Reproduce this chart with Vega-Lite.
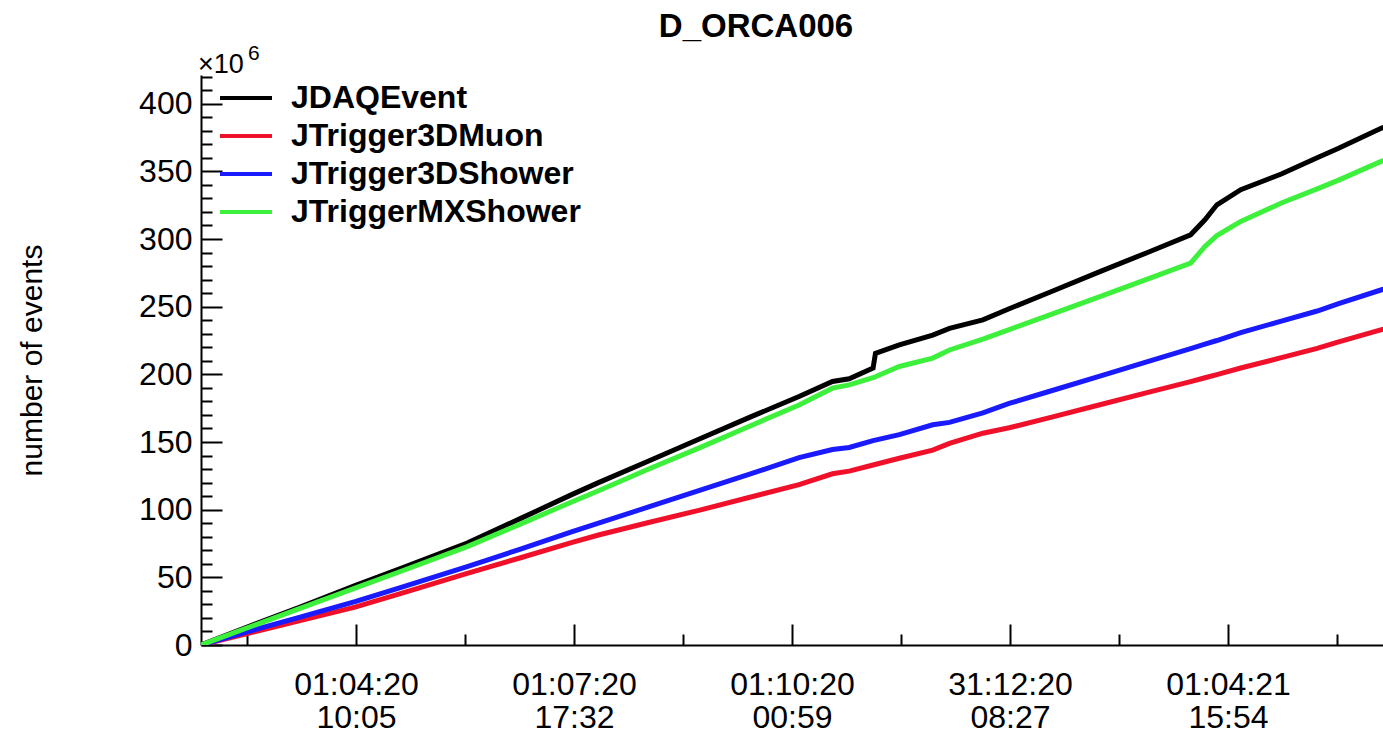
{
  "$schema": "https://vega.github.io/schema/vega-lite/v6.json",
  "autosize": {"type": "none"},
  "padding": {"left": 201, "top": 75, "right": 0, "bottom": 89},
  "width": 1182,
  "height": 570,
  "background": "white",
  "config": {"view": {"stroke": null}, "font": "Liberation Sans"},
  "title": {
    "text": "D_ORCA006",
    "font": "Liberation Sans",
    "fontSize": 33,
    "fontWeight": "bold",
    "color": "black",
    "anchor": "middle",
    "dx": -36,
    "baseline": "alphabetic",
    "offset": -27
  },
  "datasets": {
    "counts": [
      {"time": "2020-01-27T12:00:00Z", "trigger": "JDAQEvent", "events": 0},
      {"time": "2020-02-21", "trigger": "JDAQEvent", "events": 16.7},
      {"time": "2020-03-09", "trigger": "JDAQEvent", "events": 28},
      {"time": "2020-04-01", "trigger": "JDAQEvent", "events": 44},
      {"time": "2020-04-20", "trigger": "JDAQEvent", "events": 56.5},
      {"time": "2020-05-18", "trigger": "JDAQEvent", "events": 75.4},
      {"time": "2020-06-09", "trigger": "JDAQEvent", "events": 93.2},
      {"time": "2020-07-01", "trigger": "JDAQEvent", "events": 111.3},
      {"time": "2020-07-12", "trigger": "JDAQEvent", "events": 120},
      {"time": "2020-08-02", "trigger": "JDAQEvent", "events": 136},
      {"time": "2020-08-23", "trigger": "JDAQEvent", "events": 152},
      {"time": "2020-09-13", "trigger": "JDAQEvent", "events": 168},
      {"time": "2020-10-04", "trigger": "JDAQEvent", "events": 183.6},
      {"time": "2020-10-18", "trigger": "JDAQEvent", "events": 194.7},
      {"time": "2020-10-25", "trigger": "JDAQEvent", "events": 196.7},
      {"time": "2020-11-04", "trigger": "JDAQEvent", "events": 204.6},
      {"time": "2020-11-05", "trigger": "JDAQEvent", "events": 215.5},
      {"time": "2020-11-15", "trigger": "JDAQEvent", "events": 221.8},
      {"time": "2020-11-29", "trigger": "JDAQEvent", "events": 229},
      {"time": "2020-12-06", "trigger": "JDAQEvent", "events": 234},
      {"time": "2020-12-20", "trigger": "JDAQEvent", "events": 240.3},
      {"time": "2020-12-31", "trigger": "JDAQEvent", "events": 248.5},
      {"time": "2021-01-17", "trigger": "JDAQEvent", "events": 260.7},
      {"time": "2021-02-07", "trigger": "JDAQEvent", "events": 275.9},
      {"time": "2021-02-28", "trigger": "JDAQEvent", "events": 290.8},
      {"time": "2021-03-17", "trigger": "JDAQEvent", "events": 303.1},
      {"time": "2021-03-23", "trigger": "JDAQEvent", "events": 314.2},
      {"time": "2021-03-28", "trigger": "JDAQEvent", "events": 325.3},
      {"time": "2021-04-07", "trigger": "JDAQEvent", "events": 336.4},
      {"time": "2021-04-24", "trigger": "JDAQEvent", "events": 348},
      {"time": "2021-05-09", "trigger": "JDAQEvent", "events": 360},
      {"time": "2021-05-18", "trigger": "JDAQEvent", "events": 367},
      {"time": "2021-06-05", "trigger": "JDAQEvent", "events": 382},
      {"time": "2021-06-10", "trigger": "JDAQEvent", "events": 385},

      {"time": "2020-01-27T12:00:00Z", "trigger": "JTrigger3DMuon", "events": 0},
      {"time": "2020-02-21", "trigger": "JTrigger3DMuon", "events": 10.7},
      {"time": "2020-03-09", "trigger": "JTrigger3DMuon", "events": 18},
      {"time": "2020-04-01", "trigger": "JTrigger3DMuon", "events": 28},
      {"time": "2020-04-20", "trigger": "JTrigger3DMuon", "events": 38},
      {"time": "2020-05-18", "trigger": "JTrigger3DMuon", "events": 53},
      {"time": "2020-06-09", "trigger": "JTrigger3DMuon", "events": 64.3},
      {"time": "2020-07-01", "trigger": "JTrigger3DMuon", "events": 75.8},
      {"time": "2020-07-12", "trigger": "JTrigger3DMuon", "events": 81.3},
      {"time": "2020-08-02", "trigger": "JTrigger3DMuon", "events": 90.5},
      {"time": "2020-08-23", "trigger": "JTrigger3DMuon", "events": 99.5},
      {"time": "2020-09-13", "trigger": "JTrigger3DMuon", "events": 109},
      {"time": "2020-10-04", "trigger": "JTrigger3DMuon", "events": 118.5},
      {"time": "2020-10-18", "trigger": "JTrigger3DMuon", "events": 126.5},
      {"time": "2020-10-25", "trigger": "JTrigger3DMuon", "events": 128.5},
      {"time": "2020-11-04", "trigger": "JTrigger3DMuon", "events": 133},
      {"time": "2020-11-15", "trigger": "JTrigger3DMuon", "events": 138},
      {"time": "2020-11-29", "trigger": "JTrigger3DMuon", "events": 144},
      {"time": "2020-12-06", "trigger": "JTrigger3DMuon", "events": 149},
      {"time": "2020-12-20", "trigger": "JTrigger3DMuon", "events": 156.5},
      {"time": "2020-12-31", "trigger": "JTrigger3DMuon", "events": 160.5},
      {"time": "2021-01-17", "trigger": "JTrigger3DMuon", "events": 168},
      {"time": "2021-02-07", "trigger": "JTrigger3DMuon", "events": 177.5},
      {"time": "2021-02-28", "trigger": "JTrigger3DMuon", "events": 187},
      {"time": "2021-03-17", "trigger": "JTrigger3DMuon", "events": 194.6},
      {"time": "2021-03-23", "trigger": "JTrigger3DMuon", "events": 197.5},
      {"time": "2021-03-28", "trigger": "JTrigger3DMuon", "events": 199.8},
      {"time": "2021-04-07", "trigger": "JTrigger3DMuon", "events": 204.7},
      {"time": "2021-04-24", "trigger": "JTrigger3DMuon", "events": 212.3},
      {"time": "2021-05-09", "trigger": "JTrigger3DMuon", "events": 219.2},
      {"time": "2021-05-18", "trigger": "JTrigger3DMuon", "events": 224},
      {"time": "2021-06-05", "trigger": "JTrigger3DMuon", "events": 233},
      {"time": "2021-06-10", "trigger": "JTrigger3DMuon", "events": 235.5},

      {"time": "2020-01-27T12:00:00Z", "trigger": "JTrigger3DShower", "events": 0},
      {"time": "2020-02-21", "trigger": "JTrigger3DShower", "events": 12.3},
      {"time": "2020-03-09", "trigger": "JTrigger3DShower", "events": 20.6},
      {"time": "2020-04-01", "trigger": "JTrigger3DShower", "events": 32},
      {"time": "2020-04-20", "trigger": "JTrigger3DShower", "events": 42.4},
      {"time": "2020-05-18", "trigger": "JTrigger3DShower", "events": 57.9},
      {"time": "2020-06-09", "trigger": "JTrigger3DShower", "events": 70.7},
      {"time": "2020-07-01", "trigger": "JTrigger3DShower", "events": 83.8},
      {"time": "2020-07-12", "trigger": "JTrigger3DShower", "events": 90},
      {"time": "2020-08-02", "trigger": "JTrigger3DShower", "events": 102},
      {"time": "2020-08-23", "trigger": "JTrigger3DShower", "events": 114},
      {"time": "2020-09-13", "trigger": "JTrigger3DShower", "events": 126},
      {"time": "2020-10-04", "trigger": "JTrigger3DShower", "events": 138.5},
      {"time": "2020-10-18", "trigger": "JTrigger3DShower", "events": 144.5},
      {"time": "2020-10-25", "trigger": "JTrigger3DShower", "events": 146},
      {"time": "2020-11-04", "trigger": "JTrigger3DShower", "events": 151},
      {"time": "2020-11-15", "trigger": "JTrigger3DShower", "events": 155.5},
      {"time": "2020-11-29", "trigger": "JTrigger3DShower", "events": 162.7},
      {"time": "2020-12-06", "trigger": "JTrigger3DShower", "events": 164.5},
      {"time": "2020-12-20", "trigger": "JTrigger3DShower", "events": 171.5},
      {"time": "2020-12-31", "trigger": "JTrigger3DShower", "events": 178.5},
      {"time": "2021-01-17", "trigger": "JTrigger3DShower", "events": 187.5},
      {"time": "2021-02-07", "trigger": "JTrigger3DShower", "events": 198.7},
      {"time": "2021-02-28", "trigger": "JTrigger3DShower", "events": 210},
      {"time": "2021-03-17", "trigger": "JTrigger3DShower", "events": 219},
      {"time": "2021-03-23", "trigger": "JTrigger3DShower", "events": 222.3},
      {"time": "2021-03-28", "trigger": "JTrigger3DShower", "events": 225},
      {"time": "2021-04-07", "trigger": "JTrigger3DShower", "events": 230.9},
      {"time": "2021-04-24", "trigger": "JTrigger3DShower", "events": 239.3},
      {"time": "2021-05-09", "trigger": "JTrigger3DShower", "events": 246.8},
      {"time": "2021-05-18", "trigger": "JTrigger3DShower", "events": 252.2},
      {"time": "2021-06-05", "trigger": "JTrigger3DShower", "events": 262.5},
      {"time": "2021-06-10", "trigger": "JTrigger3DShower", "events": 265},

      {"time": "2020-01-27T12:00:00Z", "trigger": "JTriggerMXShower", "events": 0},
      {"time": "2020-02-21", "trigger": "JTriggerMXShower", "events": 16},
      {"time": "2020-03-09", "trigger": "JTriggerMXShower", "events": 27},
      {"time": "2020-04-01", "trigger": "JTriggerMXShower", "events": 42},
      {"time": "2020-04-20", "trigger": "JTriggerMXShower", "events": 54.3},
      {"time": "2020-05-18", "trigger": "JTriggerMXShower", "events": 72.7},
      {"time": "2020-06-09", "trigger": "JTriggerMXShower", "events": 89.1},
      {"time": "2020-07-01", "trigger": "JTriggerMXShower", "events": 105.9},
      {"time": "2020-07-12", "trigger": "JTriggerMXShower", "events": 114},
      {"time": "2020-08-02", "trigger": "JTriggerMXShower", "events": 130},
      {"time": "2020-08-23", "trigger": "JTriggerMXShower", "events": 145.5},
      {"time": "2020-09-13", "trigger": "JTriggerMXShower", "events": 161.5},
      {"time": "2020-10-04", "trigger": "JTriggerMXShower", "events": 177.4},
      {"time": "2020-10-18", "trigger": "JTriggerMXShower", "events": 189.8},
      {"time": "2020-10-25", "trigger": "JTriggerMXShower", "events": 192.2},
      {"time": "2020-11-04", "trigger": "JTriggerMXShower", "events": 197.5},
      {"time": "2020-11-15", "trigger": "JTriggerMXShower", "events": 205.8},
      {"time": "2020-11-29", "trigger": "JTriggerMXShower", "events": 212},
      {"time": "2020-12-06", "trigger": "JTriggerMXShower", "events": 218},
      {"time": "2020-12-20", "trigger": "JTriggerMXShower", "events": 226},
      {"time": "2020-12-31", "trigger": "JTriggerMXShower", "events": 233},
      {"time": "2021-01-17", "trigger": "JTriggerMXShower", "events": 244},
      {"time": "2021-02-07", "trigger": "JTriggerMXShower", "events": 257.5},
      {"time": "2021-02-28", "trigger": "JTriggerMXShower", "events": 271.1},
      {"time": "2021-03-17", "trigger": "JTriggerMXShower", "events": 282.2},
      {"time": "2021-03-23", "trigger": "JTriggerMXShower", "events": 294.5},
      {"time": "2021-03-28", "trigger": "JTriggerMXShower", "events": 302.5},
      {"time": "2021-04-07", "trigger": "JTriggerMXShower", "events": 313},
      {"time": "2021-04-24", "trigger": "JTriggerMXShower", "events": 326.6},
      {"time": "2021-05-09", "trigger": "JTriggerMXShower", "events": 337},
      {"time": "2021-05-18", "trigger": "JTriggerMXShower", "events": 343.5},
      {"time": "2021-06-05", "trigger": "JTriggerMXShower", "events": 357.5},
      {"time": "2021-06-10", "trigger": "JTriggerMXShower", "events": 360}
    ],
    "scaleNote": [
      {"time": "2020-01-27T11:56:18Z", "events": 421.2, "base": "×10", "power": "6"}
    ]
  },
  "layer": [
    {
      "data": {"name": "counts"},
      "mark": {"type": "line", "strokeWidth": 5, "clip": true},
      "encoding": {
        "x": {
          "field": "time",
          "type": "temporal",
          "scale": {"type": "utc", "domain": [1580126178000, 1622901782000]},
          "axis": {
            "values": [1581790880000, 1585735500000, 1589680120000, 1593624740000, 1597569360000, 1601513980000, 1605458600000, 1609403220000, 1613347840000, 1617292460000, 1621237080000],
            "tickCount": 100,
            "labelExpr": "round((datum.value - 1585735500000) / 3944620000) % 2 == 0 ? [utcFormat(datum.value, '%d:%m:%y'), utcFormat(datum.value, '%H:%M')] : ''",
            "tickSize": {"condition": {"test": "round((datum.value - 1585735500000) / 3944620000) % 2 == 0", "value": -21}, "value": -11},
            "tickWidth": 2,
            "tickColor": "black",
            "domainColor": "black",
            "domainWidth": 2,
            "grid": false,
            "title": null,
            "labelFont": "Liberation Sans",
            "labelFontSize": 32,
            "labelColor": "black",
            "labelLineHeight": 33,
            "labelBaseline": "top",
            "labelAlign": "center",
            "labelPadding": 45,
            "labelOverlap": false,
            "labelFlush": false,
            "labelBound": false
          }
        },
        "y": {
          "field": "events",
          "type": "quantitative",
          "scale": {"domain": [0, 421.2], "nice": false},
          "axis": {
            "values": [0, 10, 20, 30, 40, 50, 60, 70, 80, 90, 100, 110, 120, 130, 140, 150, 160, 170, 180, 190, 200, 210, 220, 230, 240, 250, 260, 270, 280, 290, 300, 310, 320, 330, 340, 350, 360, 370, 380, 390, 400, 410, 420],
            "tickCount": 100,
            "labelExpr": "datum.value % 50 == 0 ? datum.label : ''",
            "tickSize": {"condition": {"test": "datum.value % 50 == 0", "value": -21}, "value": -11},
            "tickWidth": 2,
            "tickColor": "black",
            "domainColor": "black",
            "domainWidth": 2,
            "grid": false,
            "labelFont": "Liberation Sans",
            "labelFontSize": 32,
            "labelColor": "black",
            "labelPadding": 30,
            "labelOverlap": false,
            "labelFlush": false,
            "labelBound": false,
            "title": "number of events",
            "titleFont": "Liberation Sans",
            "titleFontSize": 30,
            "titleFontWeight": "normal",
            "titleColor": "black",
            "titleAngle": -90,
            "titleAlign": "center",
            "titleBaseline": "middle",
            "titleX": -169,
            "titleY": 285
          }
        },
        "color": {
          "field": "trigger",
          "type": "nominal",
          "scale": {
            "domain": ["JDAQEvent", "JTrigger3DMuon", "JTrigger3DShower", "JTriggerMXShower"],
            "range": ["#000000", "#f0102a", "#1a1aff", "#3cf03c"]
          },
          "legend": {
            "orient": "none",
            "legendX": 17,
            "legendY": 4,
            "title": null,
            "padding": 0,
            "symbolType": "stroke",
            "symbolStrokeWidth": 4,
            "symbolSize": 2704,
            "clipHeight": 38,
            "labelFont": "Liberation Sans",
            "labelFontSize": 32,
            "labelFontWeight": "bold",
            "labelColor": "black",
            "labelOffset": 17,
            "labelLimit": 600,
            "rowPadding": 0,
            "direction": "vertical"
          }
        }
      }
    },
    {
      "mark": {"type": "rule", "color": "black", "strokeWidth": 2},
      "encoding": {"y": {"datum": 421.2}}
    },
    {
      "data": {"name": "scaleNote"},
      "mark": {"type": "text", "font": "Liberation Sans", "fontSize": 27, "align": "left", "baseline": "alphabetic", "dx": -3, "dy": -2, "color": "black"},
      "encoding": {
        "x": {"field": "time", "type": "temporal"},
        "y": {"field": "events", "type": "quantitative"},
        "text": {"field": "base"}
      }
    },
    {
      "data": {"name": "scaleNote"},
      "mark": {"type": "text", "font": "Liberation Sans", "fontSize": 21, "align": "left", "baseline": "alphabetic", "dx": 47, "dy": -15, "color": "black"},
      "encoding": {
        "x": {"field": "time", "type": "temporal"},
        "y": {"field": "events", "type": "quantitative"},
        "text": {"field": "power"}
      }
    }
  ]
}
